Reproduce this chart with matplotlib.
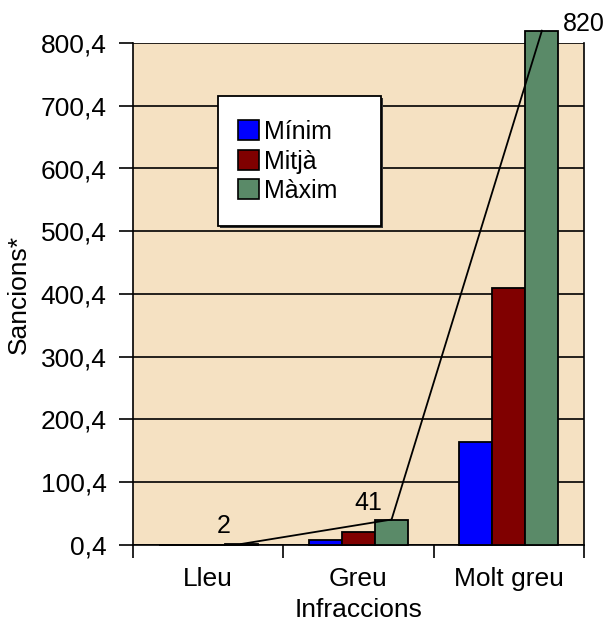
import numpy as np
import matplotlib.pyplot as plt
from matplotlib.patches import Patch, Rectangle

plt.rcParams['font.family'] = ['Liberation Sans', 'DejaVu Sans']

categories = ['Lleu', 'Greu', 'Molt greu']
series = ['Mínim', 'Mitjà', 'Màxim']
minim = [0.4, 8.2, 164]
mitja = [1.0, 20.5, 410]
maxim = [2, 41, 820]
colors = ['#0000FF', '#800000', '#5A8A68']
ytick_vals = [0.4, 100.4, 200.4, 300.4, 400.4, 500.4, 600.4, 700.4, 800.4]
ytick_labels = ['0,4', '100,4', '200,4', '300,4', '400,4', '500,4', '600,4', '700,4', '800,4']

fs = 19
fig = plt.figure(figsize=(6.06, 6.21), dpi=100)
ax = fig.add_axes([133/606, 1-545/621, (584-133)/606, (545-43)/621])
ax.set_facecolor('#F5E1C2')

x = np.arange(len(categories))
w = 0.22
base = 0.4
for i, (vals, c) in enumerate(zip([minim, mitja, maxim], colors)):
    ax.bar(x + (i-1)*w, np.array(vals) - base, w, bottom=base, color=c,
           edgecolor='black', linewidth=1.3, clip_on=False, zorder=3)

# line through the maximum values
ax.plot(x + w, maxim, color='black', linewidth=1.3, clip_on=False, zorder=4)
offsets = [(-12.5, 13), (-17, 12), (30, 5)]
for xi, v, off in zip(x, maxim, offsets):
    ax.annotate(str(v), (xi + w, v), xytext=off, textcoords='offset points',
                ha='center', va='center', fontsize=fs - 1, annotation_clip=False)

ax.set_xlim(-0.5, 2.5)
ax.set_ylim(0.4, 800.4)
ax.set_yticks(ytick_vals)
ax.set_yticklabels(ytick_labels, fontsize=fs)
ax.yaxis.grid(True, color='black', linewidth=1.2)
ax.set_axisbelow(True)

ax.set_xticks([-0.5, 0.5, 1.5, 2.5])
ax.set_xticklabels([])
ax.set_xticks(x, minor=True)
ax.set_xticklabels(categories, minor=True, fontsize=fs)
ax.tick_params(axis='x', which='major', length=9, width=1.2, direction='out')
ax.tick_params(axis='x', which='minor', length=0, pad=16)
ax.tick_params(axis='y', length=10, width=1.2, direction='out', pad=9)

for s in ['left', 'bottom', 'right']:
    ax.spines[s].set_linewidth(1.2)
    ax.spines[s].set_color('black')
ax.spines['top'].set_visible(False)

ax.set_xlabel('Infraccions', fontsize=fs, labelpad=5)
ax.set_ylabel('Sancions*', fontsize=fs, labelpad=7)

# legend box with a small dark shadow
lx0, ly0, lx1, ly1 = 218, 96, 381, 226
def to_ax(px, py):
    return (px - 133) / 451, (545 - py) / 502
sx, sy = to_ax(lx0 + 2, ly1 + 2)
ax.add_patch(Rectangle((sx, sy), (lx1 - lx0) / 451, (ly1 - ly0) / 502, transform=ax.transAxes,
                       facecolor='#333333', edgecolor='none', zorder=5))
bx, by = to_ax(lx0, ly1)
ax.add_patch(Rectangle((bx, by), (lx1 - lx0) / 451, (ly1 - ly0) / 502, transform=ax.transAxes,
                       facecolor='white', edgecolor='black', linewidth=1.3, zorder=6))

handles = [Patch(facecolor=c, edgecolor='black', linewidth=1.2) for c in colors]
leg = ax.legend(handles, series, loc='upper left', bbox_to_anchor=to_ax(238, 120),
                fontsize=18, frameon=False, borderpad=0,
                handlelength=0.85, handleheight=0.85, handletextpad=0.2, labelspacing=0.22,
                borderaxespad=0)
leg.set_zorder(7)

fig.savefig('out.png', dpi=100)
